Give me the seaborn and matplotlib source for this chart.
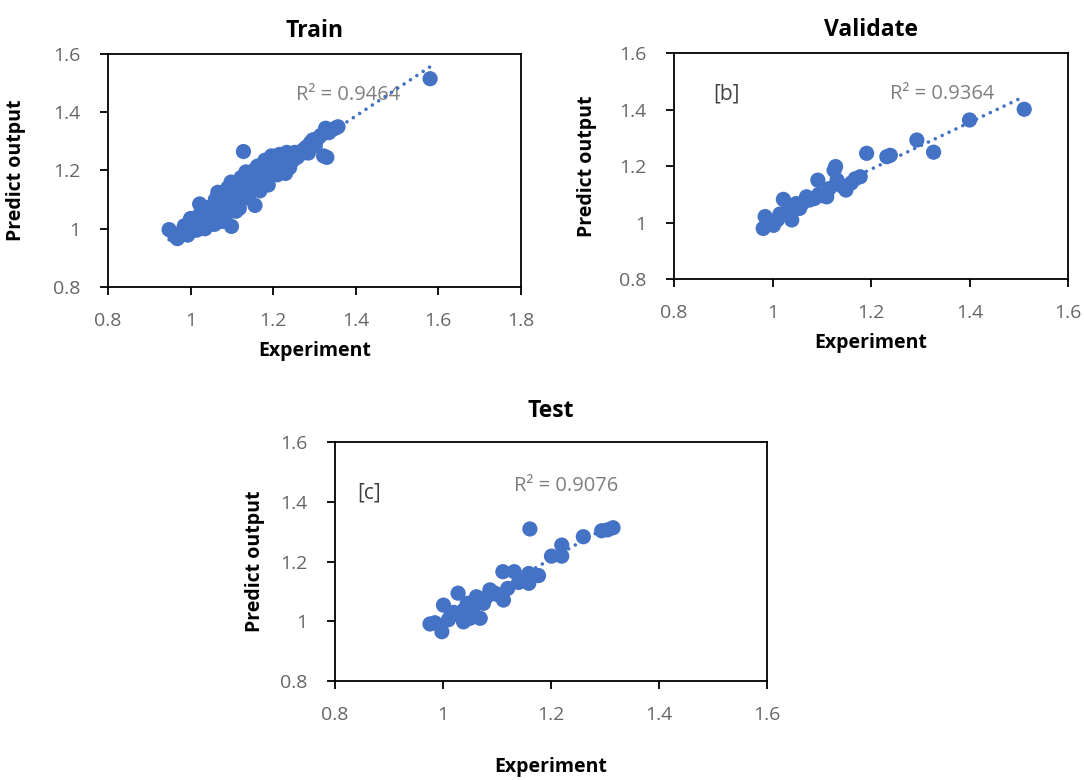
import numpy as np
import pandas as pd
import matplotlib
matplotlib.use("Agg")
import matplotlib.pyplot as plt
import seaborn as sns

sns.set_theme(style="white")
plt.rcParams["font.family"] = ["Open Sans", "DejaVu Sans"]

BLUE = "#4472C4"
TICK_GRAY = "#666666"

# ---- Train set: experiment vs. model prediction ----
train_x = [0.948, 0.962, 0.968, 0.975, 0.982, 0.988, 0.993, 0.997, 1.000, 1.004,
           1.008, 1.012, 1.015, 1.018, 1.022, 1.025, 1.028, 1.030, 1.034, 1.038,
           1.040, 1.043, 1.046, 1.050, 1.052, 1.055, 1.058, 1.060, 1.062, 1.066,
           1.068, 1.070, 1.073, 1.076, 1.078, 1.082, 1.085, 1.088, 1.090, 1.093,
           1.096, 1.098, 1.099, 1.102, 1.105, 1.108, 1.112, 1.115, 1.118, 1.122,
           1.125, 1.128, 1.130, 1.134, 1.137, 1.140, 1.143, 1.146, 1.150, 1.153,
           1.156, 1.158, 1.162, 1.165, 1.168, 1.172, 1.176, 1.180, 1.184, 1.188,
           1.192, 1.196, 1.200, 1.205, 1.210, 1.215, 1.220, 1.225, 1.230, 1.233,
           1.236, 1.240, 1.244, 1.248, 1.252, 1.258, 1.265, 1.272, 1.280, 1.285,
           1.290, 1.296, 1.302, 1.308, 1.315, 1.322, 1.330, 1.327, 1.335, 1.342,
           1.350, 1.357, 1.580,
           0.985, 1.000, 1.020, 1.035, 1.048, 1.065, 1.080, 1.095, 1.110, 1.135,
           1.160, 1.185, 1.210, 1.238]
train_y = [0.997, 0.975, 0.966, 0.985, 0.992, 1.003, 0.978, 1.012, 0.990, 1.020,
           1.000, 1.030, 0.995, 1.010, 1.085, 1.040, 1.005, 1.055, 1.020, 1.070,
           1.010, 1.035, 1.060, 1.025, 1.045, 1.080, 1.015, 1.100, 1.050, 1.125,
           1.035, 1.070, 1.090, 1.025, 1.060, 1.105, 1.045, 1.080, 1.140, 1.095,
           1.060, 1.160, 1.008, 1.120, 1.085, 1.150, 1.100, 1.130, 1.070, 1.175,
           1.115, 1.265, 1.140, 1.195, 1.160, 1.105, 1.185, 1.135, 1.170, 1.200,
           1.080, 1.150, 1.215, 1.180, 1.130, 1.200, 1.160, 1.235, 1.190, 1.150,
           1.215, 1.250, 1.200, 1.230, 1.185, 1.255, 1.215, 1.245, 1.190, 1.262,
           1.230, 1.210, 1.255, 1.235, 1.262, 1.245, 1.255, 1.270, 1.280, 1.260,
           1.295, 1.305, 1.285, 1.310, 1.320, 1.250, 1.245, 1.345, 1.330, 1.340,
           1.345, 1.350, 1.515,
           1.010, 1.035, 1.045, 1.000, 1.075, 1.090, 1.040, 1.125, 1.060, 1.120,
           1.190, 1.225, 1.220, 1.250]

# ---- Validation set ----
val_x = [0.981, 0.985, 0.990, 1.002, 1.010, 1.015, 1.022, 1.030, 1.039, 1.048,
         1.055, 1.062, 1.069, 1.076, 1.085, 1.092, 1.094, 1.102, 1.110, 1.115,
         1.125, 1.128, 1.131, 1.140, 1.149, 1.160, 1.168, 1.178, 1.191, 1.232,
         1.239, 1.293, 1.327, 1.400, 1.511]
val_y = [0.979, 1.021, 0.995, 0.990, 1.010, 1.030, 1.082, 1.040, 1.009, 1.067,
         1.050, 1.070, 1.091, 1.080, 1.085, 1.150, 1.100, 1.095, 1.091, 1.120,
         1.185, 1.198, 1.150, 1.130, 1.115, 1.140, 1.155, 1.162, 1.245, 1.233,
         1.238, 1.292, 1.249, 1.363, 1.401]

# ---- Test set ----
test_x = [0.976, 0.985, 0.998, 1.001, 1.010, 1.015, 1.020, 1.028, 1.035, 1.038,
          1.040, 1.045, 1.050, 1.055, 1.062, 1.069, 1.069, 1.075, 1.080, 1.087,
          1.095, 1.100, 1.111, 1.112, 1.120, 1.132, 1.140, 1.159, 1.159, 1.161,
          1.177, 1.201, 1.220, 1.220, 1.260, 1.294, 1.305, 1.315]
test_y = [0.991, 0.995, 0.965, 1.054, 1.005, 1.020, 1.030, 1.094, 1.015, 0.998,
          1.040, 1.060, 1.010, 1.040, 1.082, 1.071, 1.010, 1.060, 1.080, 1.105,
          1.095, 1.090, 1.166, 1.071, 1.110, 1.166, 1.130, 1.127, 1.160, 1.309,
          1.153, 1.218, 1.218, 1.255, 1.283, 1.303, 1.306, 1.313]

panels = [
    dict(title="Train", x=train_x, y=train_y, r2="R² = 0.9464", tag=None,
         xticks=[0.8, 1.0, 1.2, 1.4, 1.6, 1.8], xlabels=["0.8", "1", "1.2", "1.4", "1.6", "1.8"],
         rect=[0.0996, 0.6321, 0.3810, 0.2987], r2_pos=(1.255, 1.459), tag_pos=None,
         title_pad=12, xlabel_pad=8, ylabel_pad=19),
    dict(title="Validate", x=val_x, y=val_y, r2="R² = 0.9364", tag="[b]",
         xticks=[0.8, 1.0, 1.2, 1.4, 1.6], xlabels=["0.8", "1", "1.2", "1.4", "1.6"],
         rect=[0.6218, 0.6423, 0.3635, 0.2897], r2_pos=(1.239, 1.455), tag_pos=(0.879, 1.455),
         title_pad=12, xlabel_pad=8, ylabel_pad=16),
    dict(title="Test", x=test_x, y=test_y, r2="R² = 0.9076", tag="[c]",
         xticks=[0.8, 1.0, 1.2, 1.4, 1.6], xlabels=["0.8", "1", "1.2", "1.4", "1.6"],
         rect=[0.3090, 0.1269, 0.3985, 0.3064], r2_pos=(1.131, 1.453), tag_pos=(0.841, 1.430),
         title_pad=18, xlabel_pad=24, ylabel_pad=11),
]

yticks = [0.8, 1.0, 1.2, 1.4, 1.6]
ylabels = ["0.8", "1", "1.2", "1.4", "1.6"]

fig = plt.figure(figsize=(10.84, 7.80), dpi=100)
fig.patch.set_facecolor("white")

for p in panels:
    ax = fig.add_axes(p["rect"])
    df = pd.DataFrame({"Experiment": p["x"], "Predict output": p["y"]})

    # Linear trendline fitted to the points, spanning the observed range
    coef = np.polyfit(df["Experiment"], df["Predict output"], 1)
    xs = np.linspace(df["Experiment"].min(), df["Experiment"].max(), 50)
    ax.plot(xs, np.polyval(coef, xs), color=BLUE, lw=2.6,
            linestyle=(0, (0.01, 2.1)), dash_capstyle="round", zorder=2)

    sns.scatterplot(data=df, x="Experiment", y="Predict output", ax=ax,
                    color=BLUE, s=120, edgecolor="none", alpha=1, zorder=3)

    ax.set_xlim(p["xticks"][0], p["xticks"][-1])
    ax.set_ylim(0.8, 1.6)
    ax.set_xticks(p["xticks"])
    ax.set_xticklabels(p["xlabels"])
    ax.set_yticks(yticks)
    ax.set_yticklabels(ylabels)
    ax.tick_params(axis="both", which="major", direction="out", length=6, width=1.3,
                   color="black", labelcolor=TICK_GRAY, labelsize=14)
    ax.tick_params(axis="x", pad=12)
    ax.tick_params(axis="y", pad=14)
    ax.xaxis.set_ticks_position("bottom")
    ax.yaxis.set_ticks_position("left")
    for s in ax.spines.values():
        s.set_visible(True)
        s.set_color("black")
        s.set_linewidth(1.3)

    ax.set_title(p["title"], fontsize=16.5, fontweight="bold", color="black", pad=p["title_pad"])
    ax.set_xlabel("Experiment", fontsize=14, fontweight="bold", color="black",
                  labelpad=p["xlabel_pad"])
    ax.set_ylabel("Predict output", fontsize=14, fontweight="bold", color="black",
                  labelpad=p["ylabel_pad"])

    ax.text(p["r2_pos"][0], p["r2_pos"][1], p["r2"], fontsize=14.5, color="#7F7F7F",
            ha="left", va="center", zorder=1)
    if p["tag"]:
        ax.text(p["tag_pos"][0], p["tag_pos"][1], p["tag"], fontsize=15, color="#404040",
                ha="left", va="center")
    ax.grid(False)

fig.savefig("out.png", dpi=100, facecolor="white")
